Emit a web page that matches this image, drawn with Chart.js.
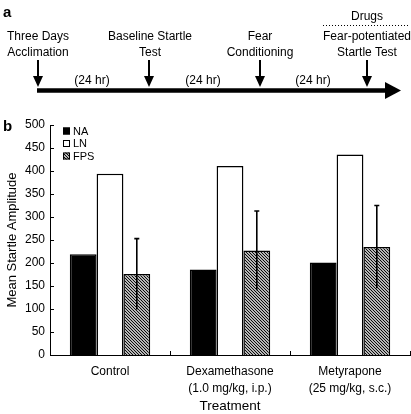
<!DOCTYPE html>
<html><head><meta charset="utf-8">
<script src="https://cdn.jsdelivr.net/npm/chart.js@4.4.1/dist/chart.umd.min.js"></script>
<style>
html,body{margin:0;padding:0;background:#fff;}
#wrap{position:relative;width:411px;height:414px;overflow:hidden;font-family:"Liberation Sans",Arial,sans-serif;}
#c{position:absolute;left:0;top:0;}
#top{position:absolute;left:0;top:0;}
</style></head>
<body>
<div id="wrap">
<canvas id="c" width="411" height="414"></canvas>
<svg id="top" width="411" height="115" font-family="Liberation Sans, Arial, sans-serif" font-size="12" fill="#000">
  <text x="3" y="17" font-size="15" font-weight="bold">a</text>
  <text x="38" y="40" text-anchor="middle">Three Days</text>
  <text x="38" y="56" text-anchor="middle">Acclimation</text>
  <text x="150" y="40" text-anchor="middle">Baseline Startle</text>
  <text x="150" y="56" text-anchor="middle">Test</text>
  <text x="260" y="40" text-anchor="middle">Fear</text>
  <text x="260" y="56" text-anchor="middle">Conditioning</text>
  <text x="367" y="20" text-anchor="middle">Drugs</text>
  <line x1="323" y1="25.5" x2="408" y2="25.5" stroke="#000" stroke-width="1" stroke-dasharray="1,2"/>
  <text x="367" y="40" text-anchor="middle">Fear-potentiated</text>
  <text x="367" y="56" text-anchor="middle">Startle Test</text>
  <text x="92" y="84" text-anchor="middle">(24 hr)</text>
  <text x="203" y="84" text-anchor="middle">(24 hr)</text>
  <text x="313" y="84" text-anchor="middle">(24 hr)</text>
  <g stroke="#000" stroke-width="2">
    <line x1="38" y1="60" x2="38" y2="78"/>
    <line x1="149" y1="60" x2="149" y2="78"/>
    <line x1="260" y1="60" x2="260" y2="78"/>
    <line x1="367" y1="60" x2="367" y2="78"/>
  </g>
  <polygon points="33,76 43,76 38,87"/>
  <polygon points="144,76 154,76 149,87"/>
  <polygon points="255,76 265,76 260,87"/>
  <polygon points="362,76 372,76 367,87"/>
  <line x1="37" y1="90.5" x2="387" y2="90.5" stroke="#000" stroke-width="4.5"/>
  <polygon points="385,82 401,90.5 385,99"/>
</svg>
</div>
<script>
const categories = ["Control", ["Dexamethasone", "(1.0 mg/kg, i.p.)"], ["Metyrapone", "(25 mg/kg, s.c.)"]];
const seriesNames = ["NA", "LN", "FPS"];
const naValues = [219, 186, 201];
const lnValues = [394, 411, 436];
const fpsValues = [176, 227, 235];
const fpsErrors = [77, 86, 90];
const yTicks = [0, 50, 100, 150, 200, 250, 300, 350, 400, 450, 500];

function makeHatch() {
  const s = 3;
  const p = document.createElement('canvas');
  p.width = s; p.height = s;
  const g = p.getContext('2d');
  g.fillStyle = '#fff'; g.fillRect(0, 0, s, s);
  g.strokeStyle = '#000'; g.lineWidth = 1.1;
  g.beginPath();
  g.moveTo(-1, -1); g.lineTo(s + 1, s + 1);
  g.moveTo(-1, s - 1); g.lineTo(1, s + 1);
  g.moveTo(s - 1, -1); g.lineTo(s + 1, 1);
  g.stroke();
  return document.getElementById('c').getContext('2d').createPattern(p, 'repeat');
}
const hatch = makeHatch();
const FONT = '"Liberation Sans", Arial, sans-serif';

const inwardTicks = {
  id: 'inwardTicks',
  afterDraw(chart) {
    const ctx = chart.ctx, y = chart.scales.y, x = chart.scales.x, a = chart.chartArea;
    ctx.save();
    ctx.strokeStyle = '#000'; ctx.lineWidth = 1;
    ctx.beginPath();
    yTicks.forEach(v => {
      const py = Math.round(y.getPixelForValue(v)) + 0.5;
      ctx.moveTo(a.left, py); ctx.lineTo(a.left + 4, py);
    });
    for (let i = 0; i < categories.length; i++) {
      const px = Math.round(x.getPixelForValue(i + 0.5)) + 0.5;
      ctx.moveTo(px, a.bottom); ctx.lineTo(px, a.bottom - 4);
    }
    ctx.stroke();
    ctx.restore();
  }
};

const errorBars = {
  id: 'errorBars',
  afterDatasetsDraw(chart) {
    const ctx = chart.ctx, y = chart.scales.y;
    const meta = chart.getDatasetMeta(2);
    ctx.save();
    ctx.strokeStyle = '#000'; ctx.lineWidth = 1.6;
    meta.data.forEach((bar, i) => {
      const top = y.getPixelForValue(fpsValues[i] + fpsErrors[i]);
      const bot = y.getPixelForValue(fpsValues[i] - fpsErrors[i]);
      ctx.beginPath();
      ctx.moveTo(bar.x, bot); ctx.lineTo(bar.x, top);
      ctx.moveTo(bar.x - 2.5, top); ctx.lineTo(bar.x + 2.5, top);
      ctx.stroke();
    });
    ctx.restore();
  }
};

const innerLegend = {
  id: 'innerLegend',
  afterDraw(chart) {
    const ctx = chart.ctx, a = chart.chartArea;
    ctx.save();
    ctx.font = '11px ' + FONT;
    ctx.textBaseline = 'middle';
    ctx.fillStyle = '#000';
    chart.data.datasets.forEach((ds, i) => {
      const cy = a.top + 6 + i * 12.5;
      const sx = a.left + 13;
      ctx.fillStyle = ds.backgroundColor;
      ctx.fillRect(sx, cy - 3.5, 7, 7);
      ctx.strokeStyle = '#000'; ctx.lineWidth = 1;
      ctx.strokeRect(sx + 0.5, cy - 3, 6, 6);
      ctx.fillStyle = '#000';
      ctx.fillText(ds.label, sx + 10, cy + 0.5);
    });
    ctx.restore();
  }
};

new Chart(document.getElementById('c'), {
  type: 'bar',
  data: {
    labels: categories,
    datasets: [
      { label: seriesNames[0], data: naValues, backgroundColor: '#000', borderColor: '#000', borderWidth: 1.5 },
      { label: seriesNames[1], data: lnValues, backgroundColor: '#fff', borderColor: '#000', borderWidth: 1.5 },
      { label: seriesNames[2], data: fpsValues, backgroundColor: hatch, borderColor: '#000', borderWidth: 1.5 }
    ]
  },
  options: {
    responsive: false,
    animation: false,
    devicePixelRatio: 1,
    layout: { padding: { top: 125, right: 1, left: 0, bottom: 0 } },
    datasets: { bar: { barPercentage: 1, categoryPercentage: 0.67 } },
    plugins: { legend: { display: false }, tooltip: { enabled: false } },
    scales: {
      x: {
        grid: { display: false, drawTicks: false },
        border: { display: true, color: '#000', width: 1 },
        ticks: { color: '#000', font: { family: FONT, size: 12, lineHeight: 1.35 }, padding: 9, maxRotation: 0 },
        title: { display: true, text: 'Treatment', color: '#000', font: { family: FONT, size: 13.5 }, padding: { top: 0, bottom: 0 } },
        afterFit(s) { s.height = 59; }
      },
      y: {
        min: 0, max: 500,
        afterBuildTicks(s) { s.ticks = yTicks.map(v => ({ value: v })); },
        grid: { display: false, drawTicks: false },
        border: { display: true, color: '#000', width: 1 },
        ticks: { color: '#000', font: { family: FONT, size: 12 }, padding: 5 },
        title: { display: true, text: 'Mean Startle Amplitude', color: '#000', font: { family: FONT, size: 13 }, padding: { top: 5, bottom: 0 } },
        afterFit(s) { s.width = 50; }
      }
    }
  },
  plugins: [inwardTicks, errorBars, innerLegend, {
    id: 'panelB',
    afterDraw(chart) {
      const ctx = chart.ctx;
      ctx.save();
      ctx.font = 'bold 15px ' + FONT;
      ctx.fillStyle = '#000';
      ctx.textBaseline = 'alphabetic';
      ctx.fillText('b', 3, 131);
      ctx.restore();
    }
  }]
});
</script>
</body></html>
